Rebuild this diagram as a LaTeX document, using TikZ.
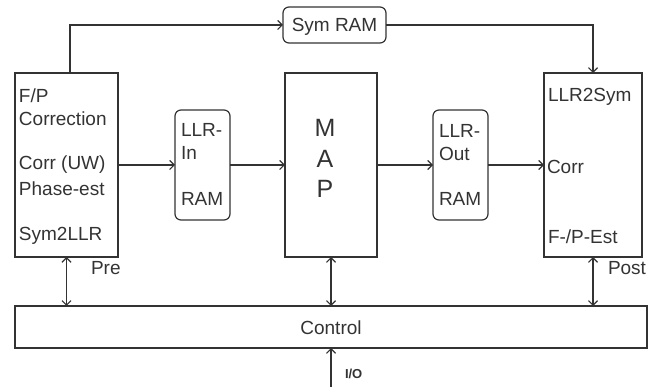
\documentclass[tikz,border=0pt]{standalone}
\usepackage{fontspec}
\setmainfont{Liberation Sans}
\usetikzlibrary{arrows.meta}
\definecolor{ink}{HTML}{333333}
\begin{document}
\begin{tikzpicture}[x=1pt,y=-1pt,
  every node/.style={inner sep=0pt, outer sep=0pt, text=ink},
  blk/.style={draw=ink, line width=1.2pt, rectangle},
  ram/.style={blk, rounded corners=6pt},
  txt/.style={anchor=west, font=\fontsize{19}{23}\selectfont},
  lbl/.style={font=\fontsize{19}{23}\selectfont},
  conn/.style={draw=ink, line width=1.2pt, -{Straight Barb[length=4.5pt,width=9pt]}},
  dconn/.style={draw=ink, line width=1.2pt, {Straight Barb[length=4.5pt,width=9pt]}-{Straight Barb[length=4.5pt,width=9pt]}}]
\useasboundingbox (0,0) rectangle (662,387);
% boxes
\node[blk, minimum width=103pt, minimum height=184pt] (pre) at (66.5,165) {};
\node[ram, minimum width=103pt, minimum height=36pt] (symram) at (334.5,25) {};
\node[ram, minimum width=55pt, minimum height=110pt] (llrin) at (202.5,165) {};
\node[blk, minimum width=92pt, minimum height=184pt] (map) at (331,165) {};
\node[ram, minimum width=55pt, minimum height=110pt] (llrout) at (460.5,165) {};
\node[blk, minimum width=98pt, minimum height=184pt] (post) at (593,165) {};
\node[blk, minimum width=632pt, minimum height=42pt] (control) at (331,327) {};
% texts
\node[lbl] (tsym) at (334.5,27) {Sym RAM};
\node[txt] (t1) at (19,96) {F/P};
\node[txt] (t2) at (19,119) {Correction};
\node[txt] (t3) at (19,165) {Corr (UW)};
\node[txt] (t4) at (19,189) {Phase-est};
\node[txt] (t5) at (19,236) {Sym2LLR};
\node[txt] (t6) at (181,130) {LLR-};
\node[txt] (t7) at (181,153) {In};
\node[txt] (t8) at (181,199) {RAM};
\node[font=\fontsize{25}{31}\selectfont] (m1) at (325,128) {M};
\node[font=\fontsize{25}{31}\selectfont] (m2) at (325,159) {A};
\node[font=\fontsize{25}{31}\selectfont] (m3) at (325,189) {P};
\node[txt] (t9) at (439,131) {LLR-};
\node[txt] (t10) at (439,154) {Out};
\node[txt] (t11) at (439,199) {RAM};
\node[txt] (t12) at (548,97) {LLR2Sym};
\node[txt] (t13) at (547,167) {Corr};
\node[txt] (t14) at (548,237) {F-/P-Est};
\node[lbl] (tctl) at (331,328) {Control};
\node[lbl, anchor=west] (tpre) at (91,268) {Pre};
\node[lbl, anchor=west] (tpost) at (608,268) {Post};
\node[font=\bfseries\fontsize{13}{15}\selectfont, anchor=west] (tio) at (345,374) {I/O};
% connectors
\draw[conn] ([xshift=3.5pt]pre.north) |- (symram.west);
\draw[conn] (symram.east) -| (post.north);
\draw[conn] (pre) -- (llrin);
\draw[conn] (llrin) -- (map);
\draw[conn] (map) -- (llrout);
\draw[conn] (llrout) -- (post);
\draw[dconn] (pre.south) -- (pre.south |- control.north);
\draw[dconn] (map.south) -- (map.south |- control.north);
\draw[dconn] (post.south) -- (post.south |- control.north);
\coordinate (io) at (331,387);
\draw[conn] (io) -- (control.south);
\end{tikzpicture}
\end{document}
